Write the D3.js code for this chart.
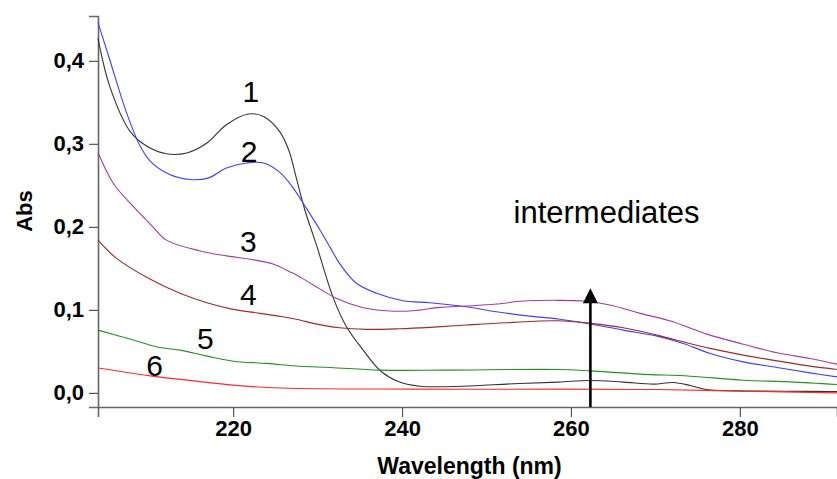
<!DOCTYPE html>
<html>
<head>
<meta charset="utf-8">
<script src="https://cdn.jsdelivr.net/npm/d3@7"></script>
<style>
  html, body { margin: 0; padding: 0; background: #fff; }
  svg { display: block; font-family: "Liberation Sans", Arial, sans-serif; }
</style>
</head>
<body>
<div id="chart"></div>
<script>
// spectra: wavelength (nm) and absorbance
const wl1  = [204, 205.4, 207.8, 209.8, 212.1, 214.5, 216.9, 219.2, 221.8, 223.6, 225.5, 226.6, 227.5, 228.5, 229.9, 231.8, 233.4, 235.4, 237.4, 239.7, 242.1, 247.2, 253.2, 258.5, 262.3, 266.2, 269.8, 272.1, 274.1, 276.1, 279.6, 285, 291.5];
const abs1 = [0.427, 0.369, 0.315, 0.297, 0.288, 0.289, 0.301, 0.323, 0.336, 0.333, 0.315, 0.292, 0.258, 0.220, 0.177, 0.116, 0.080, 0.0515, 0.027, 0.013, 0.008, 0.008, 0.011, 0.013, 0.015, 0.013, 0.0105, 0.0125, 0.009, 0.004, 0.0024, 0.002, 0.0015];

const wl2  = [204, 205.4, 207.4, 209, 210.2, 212.5, 214.9, 217.1, 219.2, 221.6, 223.6, 225.5, 227.1, 228.7, 230.3, 231.5, 232.6, 234.6, 237, 240.1, 243.3, 247.6, 251.2, 255.1, 258.5, 262.3, 266.2, 270.2, 273.3, 276.5, 280.4, 284.4, 288.3, 291.5];
const abs2 = [0.446, 0.401, 0.337, 0.297, 0.279, 0.263, 0.257, 0.259, 0.271, 0.277, 0.277, 0.266, 0.247, 0.222, 0.196, 0.175, 0.156, 0.132, 0.120, 0.111, 0.1086, 0.1037, 0.0977, 0.0925, 0.089, 0.083, 0.0756, 0.0684, 0.0596, 0.0475, 0.0374, 0.0306, 0.0241, 0.0193];

const wl3  = [204, 205.8, 208.2, 210.5, 212.1, 216.1, 219.2, 222, 224.8, 226.7, 227.5, 229.5, 232.2, 235.4, 238.6, 241.3, 244.5, 247.6, 251.2, 254.3, 258.5, 261.5, 264.6, 268.2, 271.7, 276.1, 280.4, 284.4, 288.3, 291.5];
const abs3 = [0.2895, 0.2526, 0.2244, 0.200, 0.184, 0.171, 0.165, 0.161, 0.155, 0.146, 0.142, 0.130, 0.114, 0.1026, 0.0986, 0.099, 0.103, 0.1046, 0.107, 0.1106, 0.1115, 0.1106, 0.1058, 0.0958, 0.0869, 0.0708, 0.0587, 0.0483, 0.0415, 0.0346];

const wl4  = [204, 206.2, 210.2, 213.7, 216.9, 220, 223.2, 225.7, 227.9, 229.5, 232.6, 235.8, 239.7, 243.3, 247.6, 252.4, 258.5, 262.3, 266.2, 270.2, 273.3, 276.5, 280.4, 284.4, 288.3, 291.5];
const abs4 = [0.184, 0.162, 0.1368, 0.120, 0.1086, 0.1006, 0.0958, 0.092, 0.0877, 0.0837, 0.0784, 0.0765, 0.0772, 0.0789, 0.0817, 0.0845, 0.0869, 0.0837, 0.0784, 0.0696, 0.0615, 0.0536, 0.0455, 0.0386, 0.0322, 0.0282];

const wl5  = [204, 208.2, 210.9, 213.7, 216.9, 220, 224, 227.9, 231.5, 237.4, 245.3, 258.5, 262.3, 268.2, 274.1, 280.4, 285.9, 291.5];
const abs5 = [0.0756, 0.0636, 0.0555, 0.0515, 0.0443, 0.0382, 0.0355, 0.032, 0.0306, 0.0274, 0.0274, 0.0282, 0.0265, 0.0226, 0.0201, 0.0153, 0.0133, 0.0101];

const wl6  = [204, 210.2, 215.3, 220, 225.7, 241.3, 258.5, 270.2, 280.4, 291.5];
const abs6 = [0.030, 0.0205, 0.0145, 0.0093, 0.0058, 0.0045, 0.0045, 0.004, 0.002, 0.0];

const curveNames = ["1", "2", "3", "4", "5", "6"];
const curveColors = ["#333333", "#3f3fff", "#a03ca8", "#9c2c2c", "#259025", "#ff2a2a"];
// where each number label sits, in data units [nm, abs]
const labelAt = [[222.1, 0.351], [221.9, 0.2785], [221.8, 0.170], [221.8, 0.1059], [216.7, 0.0529], [210.7, 0.0204]];

const xTicks = [220, 240, 260, 280];
const yTicks = [0, 0.1, 0.2, 0.3, 0.4];
const arrowWl = 262.3;
const arrowTop = 0.126;
const noteText = "intermediates";
const noteAt = [253.2, 0.2043];

const width = 837;
const height = 479;
const margin = {top: 16, bottom: 72, left: 98, right: 0};

const svg = d3.select("#chart")
              .append("svg")
              .attr("width", width)
              .attr("height", height);

const xScale = d3.scaleLinear()
                 .domain([204, 291.5])
                 .range([margin.left, width - margin.right]);

const yScale = d3.scaleLinear()
                 .domain([-0.017, 0.454])
                 .range([height - margin.bottom, margin.top]);

const comma = v => d3.format(".1f")(v).replace(".", ",");

const xAxis = d3.axisBottom(xScale)
                .tickValues(xTicks)
                .tickSize(10)
                .tickPadding(3)
                .tickFormat(d3.format("d"));

const yAxis = d3.axisLeft(yScale)
                .tickValues(yTicks)
                .tickSize(9)
                .tickPadding(5)
                .tickFormat(comma);

const gx = svg.append("g")
   .attr("transform", `translate(0, ${height - margin.bottom})`)
   .call(xAxis);

const gy = svg.append("g")
   .attr("transform", `translate(${margin.left}, 0)`)
   .call(yAxis);

[gx, gy].forEach(g => {
  g.select(".domain").attr("stroke", "#666").attr("stroke-width", 1.6);
  g.selectAll(".tick line").attr("stroke", "#555").attr("stroke-width", 1.2);
  g.selectAll(".tick text")
   .attr("fill", "#000")
   .style("font-family", "Liberation Sans, Arial, sans-serif")
   .style("font-size", "22px")
   .style("font-weight", "bold");
});

const series = [[wl1, abs1], [wl2, abs2], [wl3, abs3], [wl4, abs4], [wl5, abs5], [wl6, abs6]];

const line = d3.line()
               .x(d => xScale(d[0]))
               .y(d => yScale(d[1]))
               .curve(d3.curveCatmullRom.alpha(0.5));

svg.selectAll(".spectrum")
   .data(series)
   .enter()
   .append("path")
   .attr("class", "spectrum")
   .attr("fill", "none")
   .attr("stroke", (d, i) => curveColors[i])
   .attr("stroke-width", 1.1)
   .attr("d", d => line(d3.zip(d[0], d[1])));

svg.selectAll(".curve-label")
   .data(curveNames)
   .enter()
   .append("text")
   .attr("class", "curve-label")
   .attr("x", (d, i) => xScale(labelAt[i][0]))
   .attr("y", (d, i) => yScale(labelAt[i][1]))
   .attr("text-anchor", "middle")
   .style("font-size", "30px")
   .text(d => d);

// arrow pointing up at the intermediates band
const ax = xScale(arrowWl);
const ayTop = yScale(arrowTop);
svg.append("line")
   .attr("x1", ax).attr("x2", ax)
   .attr("y1", yScale.range()[0]).attr("y2", ayTop + 12)
   .attr("stroke", "#000")
   .attr("stroke-width", 2.6);
svg.append("path")
   .attr("d", `M${ax},${ayTop} L${ax - 7.5},${ayTop + 15} L${ax + 7.5},${ayTop + 15} Z`)
   .attr("fill", "#000");

svg.append("text")
   .attr("x", xScale(noteAt[0]))
   .attr("y", yScale(noteAt[1]))
   .style("font-size", "31px")
   .text(noteText);

svg.append("text")
   .attr("x", (margin.left + width) / 2 + 2)
   .attr("y", 474)
   .attr("text-anchor", "middle")
   .style("font-size", "23px")
   .style("font-weight", "bold")
   .text("Wavelength (nm)");

svg.append("text")
   .attr("transform", "translate(32, 211) rotate(-90)")
   .attr("text-anchor", "middle")
   .style("font-size", "22px")
   .style("font-weight", "bold")
   .text("Abs");
</script>
</body>
</html>
